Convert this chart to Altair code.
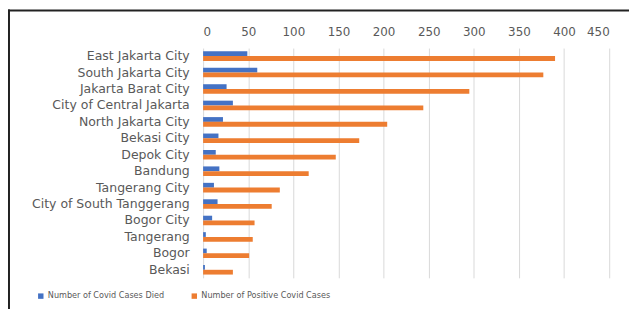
import altair as alt
import pandas as pd

cities = ["East Jakarta City", "South Jakarta City", "Jakarta Barat City",
          "City of Central Jakarta", "North Jakarta City", "Bekasi City",
          "Depok City", "Bandung", "Tangerang City", "City of South Tanggerang",
          "Bogor City", "Tangerang", "Bogor", "Bekasi"]
died = [49, 60, 26, 33, 22, 17, 14, 18, 12, 16, 10, 3, 4, 2]
positive = [390, 377, 295, 244, 204, 173, 147, 117, 85, 76, 57, 55, 51, 33]
series = ["Number of Covid Cases Died", "Number of Positive Covid Cases"]
colors = ["#4472C4", "#ED7D31"]
ticks = [0, 50, 100, 150, 200, 250, 300, 350, 400, 450]

rows = []
for c, d, p in zip(cities, died, positive):
    rows.append({"city": c, "series": series[0], "value": d})
    rows.append({"city": c, "series": series[1], "value": p})
df = pd.DataFrame(rows)

FONT = "DejaVu Sans"
W, H = 410, 232

bars = alt.Chart(df).mark_bar().encode(
    y=alt.Y("city:N", sort=cities, title=None,
            scale=alt.Scale(paddingInner=0.42, paddingOuter=0.2),
            axis=alt.Axis(ticks=False, domain=False, labelColor="#595959",
                          labelFont=FONT, labelFontSize=12.6, labelPadding=14,
                          labelLimit=220)),
    yOffset=alt.YOffset("series:N", sort=series),
    x=alt.X("value:Q", title=None,
            scale=alt.Scale(domain=[0, 450], nice=False),
            axis=alt.Axis(orient="top", values=ticks, grid=True, gridColor="#d9d9d9",
                          gridWidth=1, domain=False, ticks=False,
                          labelColor="#595959", labelFont=FONT, labelFontSize=12,
                          labelPadding=10)),
    color=alt.Color("series:N", sort=series,
                    scale=alt.Scale(domain=series, range=colors),
                    legend=alt.Legend(title=None, orient="none", direction="horizontal",
                                      legendX=-168, legendY=246, symbolType="square",
                                      symbolSize=30, symbolStrokeWidth=0,
                                      labelFont=FONT, labelFontSize=8.2,
                                      labelColor="#595959", columnPadding=26,
                                      labelOffset=3, labelLimit=200)),
)

frame = alt.Data(values=[{"k": 1}])
top_line = alt.Chart(frame).mark_rule(color="#222222", strokeWidth=2).encode(
    x=alt.value(-197), x2=alt.value(W + 25), y=alt.value(-38))
left_line = alt.Chart(frame).mark_rule(color="#222222", strokeWidth=2).encode(
    x=alt.value(-196), y=alt.value(-39), y2=alt.value(H + 35))

chart = alt.layer(bars, top_line, left_line).properties(
    width=W, height=H,
    autosize=alt.AutoSizeParams(type="none"),
    padding={"left": 197, "top": 39, "right": 20, "bottom": 30},
).configure_view(stroke=None)

chart.save("out.html", embed_options={"renderer": "svg", "actions": False})
